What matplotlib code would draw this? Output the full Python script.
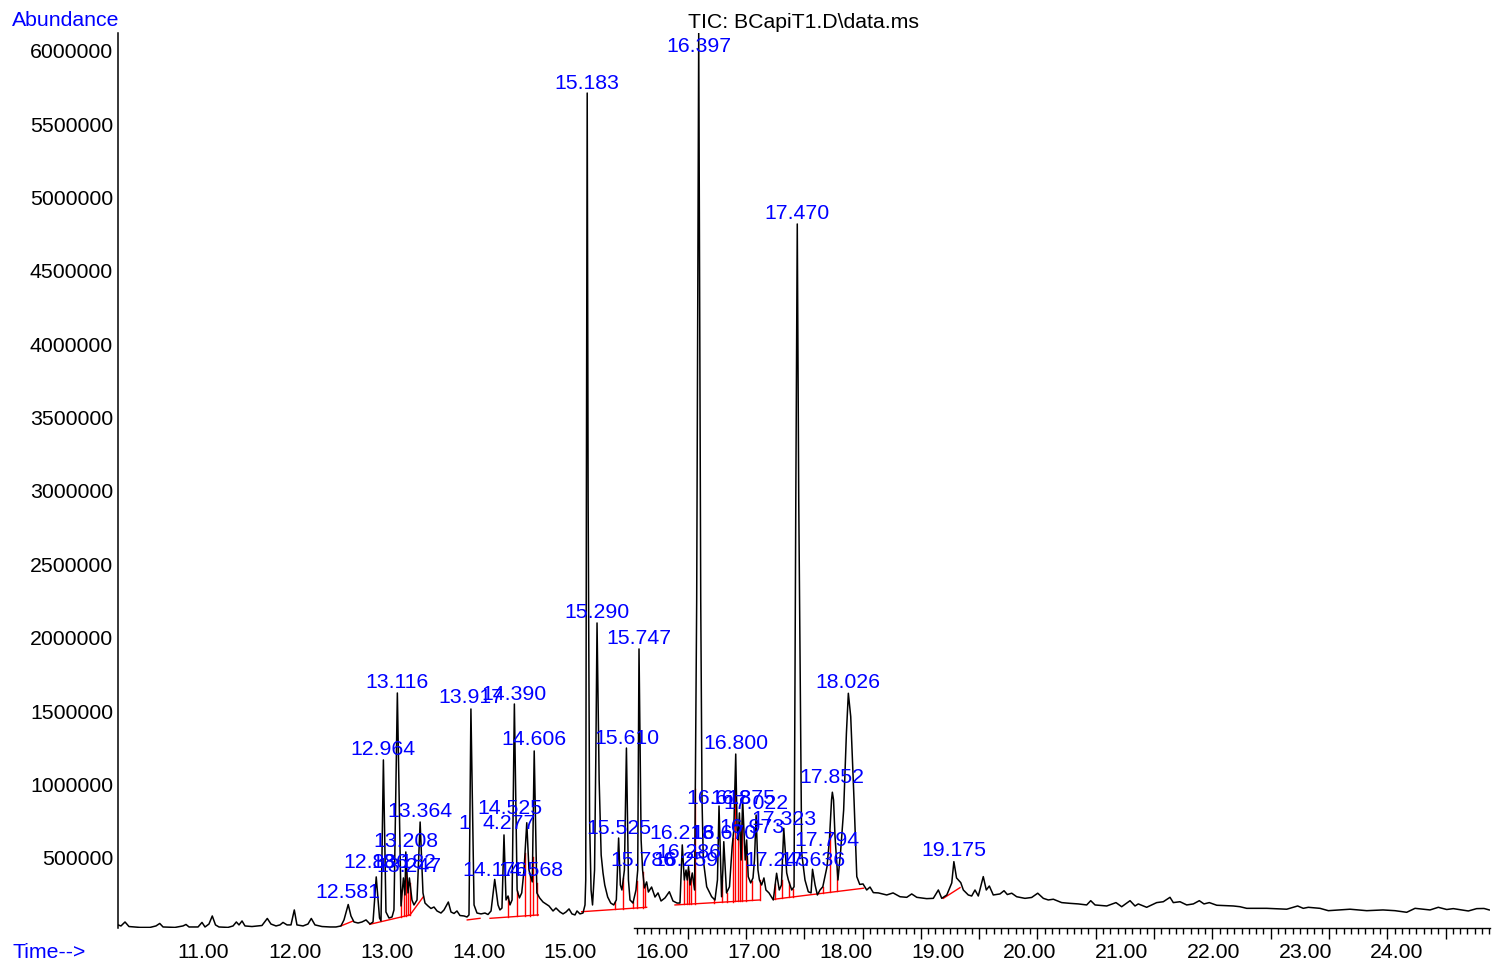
import numpy as np
import matplotlib
matplotlib.use("Agg")
import matplotlib.pyplot as plt
from matplotlib.ticker import MultipleLocator, NullFormatter

plt.rcParams['font.family'] = ['Liberation Sans', 'DejaVu Sans']

# ---------------- data ----------------
trace_time = [
    10.075, 10.107, 10.151, 10.194, 10.314, 10.423, 10.488, 10.529, 10.565, 10.695,
    10.782, 10.815, 10.848, 10.946, 10.989, 11.022, 11.065, 11.101, 11.136, 11.174,
    11.272, 11.327, 11.363, 11.392, 11.425, 11.457, 11.533, 11.642, 11.700, 11.740,
    11.795, 11.838, 11.871, 11.915, 11.958, 11.994, 12.023, 12.089, 12.143, 12.179,
    12.219, 12.296, 12.383, 12.448, 12.502, 12.535, 12.581, 12.611, 12.644, 12.688,
    12.731, 12.775, 12.818, 12.851, 12.886, 12.922, 12.938, 12.964, 12.992, 13.025,
    13.058, 13.079, 13.116, 13.156, 13.182, 13.199, 13.208, 13.232, 13.247, 13.275,
    13.297, 13.330, 13.364, 13.395, 13.417, 13.450, 13.482, 13.515, 13.548, 13.591,
    13.624, 13.671, 13.700, 13.733, 13.765, 13.798, 13.842, 13.874, 13.896, 13.917,
    13.951, 13.983, 14.027, 14.070, 14.103, 14.136, 14.176, 14.212, 14.233, 14.255,
    14.277, 14.299, 14.321, 14.342, 14.365, 14.390, 14.420, 14.445, 14.470, 14.495,
    14.525, 14.549, 14.568, 14.585, 14.606, 14.635, 14.665, 14.702, 14.734, 14.767,
    14.811, 14.843, 14.887, 14.920, 14.952, 14.985, 15.017, 15.050, 15.072, 15.104,
    15.137, 15.159, 15.167, 15.174, 15.183, 15.193, 15.209, 15.225, 15.241, 15.263,
    15.277, 15.290, 15.313, 15.335, 15.355, 15.374, 15.406, 15.439, 15.472, 15.500,
    15.525, 15.544, 15.561, 15.588, 15.610, 15.632, 15.649, 15.681, 15.714, 15.733,
    15.747, 15.770, 15.786, 15.806, 15.830, 15.849, 15.884, 15.921, 15.954, 15.987,
    16.030, 16.077, 16.117, 16.161, 16.193, 16.218, 16.240, 16.259, 16.272, 16.286,
    16.303, 16.327, 16.352, 16.375, 16.397, 16.419, 16.433, 16.447, 16.484, 16.538,
    16.574, 16.601, 16.618, 16.646, 16.660, 16.670, 16.700, 16.732, 16.761, 16.779,
    16.800, 16.815, 16.826, 16.840, 16.859, 16.875, 16.903, 16.919, 16.936, 16.963,
    16.988, 17.004, 17.022, 17.042, 17.058, 17.082, 17.107, 17.129, 17.162, 17.209,
    17.245, 17.274, 17.298, 17.323, 17.355, 17.373, 17.410, 17.435, 17.454, 17.470,
    17.486, 17.518, 17.554, 17.590, 17.620, 17.636, 17.664, 17.689, 17.718, 17.748,
    17.794, 17.820, 17.843, 17.852, 17.865, 17.881, 17.913, 17.943, 17.975, 18.005,
    18.026, 18.052, 18.088, 18.118, 18.150, 18.186, 18.226, 18.262, 18.298, 18.353,
    18.444, 18.513, 18.589, 18.662, 18.716, 18.771, 18.879, 18.951, 19.006, 19.043,
    19.098, 19.152, 19.175, 19.204, 19.250, 19.278, 19.332, 19.369, 19.405, 19.441,
    19.495, 19.528, 19.561, 19.604, 19.677, 19.721, 19.757, 19.805, 19.859, 19.949,
    20.022, 20.088, 20.149, 20.203, 20.258, 20.349, 20.439, 20.530, 20.621, 20.665,
    20.712, 20.839, 20.940, 21.002, 21.093, 21.147, 21.183, 21.274, 21.383, 21.455,
    21.528, 21.564, 21.637, 21.710, 21.782, 21.847, 21.898, 21.956, 22.037, 22.218,
    22.290, 22.363, 22.581, 22.799, 22.918, 22.979, 23.034, 23.161, 23.252, 23.488,
    23.670, 23.847, 23.978, 24.105, 24.196, 24.359, 24.449, 24.541, 24.612, 24.776,
    24.867, 24.947, 25.004,
]
trace_abundance = [
    44000, 37000, 64000, 33000, 27000, 27000, 37000, 54000, 30000, 27000,
    37000, 47000, 30000, 30000, 61000, 30000, 50000, 105000, 44000, 30000,
    27000, 37000, 64000, 44000, 71000, 37000, 33000, 40000, 88000, 50000,
    37000, 44000, 61000, 44000, 44000, 146000, 44000, 37000, 50000, 88000,
    44000, 33000, 30000, 30000, 37000, 78000, 183000, 105000, 64000, 57000,
    64000, 78000, 50000, 64000, 371000, 91000, 71000, 1168000, 132000, 91000,
    98000, 146000, 1624000, 173000, 364000, 248000, 541000, 262000, 364000, 214000,
    180000, 214000, 745000, 262000, 193000, 173000, 156000, 166000, 139000, 125000,
    146000, 200000, 132000, 122000, 139000, 108000, 105000, 98000, 112000, 1515000,
    180000, 125000, 119000, 125000, 115000, 139000, 354000, 180000, 146000, 159000,
    657000, 214000, 241000, 180000, 214000, 1549000, 282000, 228000, 262000, 418000,
    740000, 418000, 371000, 337000, 1229000, 262000, 228000, 200000, 187000, 173000,
    139000, 159000, 132000, 119000, 132000, 153000, 119000, 112000, 139000, 119000,
    125000, 180000, 350000, 2939000, 5711000, 2939000, 759000, 282000, 180000, 418000,
    1200000, 2101000, 1031000, 520000, 398000, 316000, 234000, 193000, 180000, 214000,
    636000, 316000, 282000, 418000, 1249000, 350000, 214000, 193000, 282000, 418000,
    1924000, 623000, 418000, 296000, 337000, 268000, 302000, 234000, 262000, 207000,
    228000, 270000, 207000, 193000, 193000, 589000, 350000, 418000, 350000, 441000,
    316000, 398000, 282000, 2258000, 6120000, 2258000, 896000, 486000, 304000, 236000,
    214000, 350000, 854000, 236000, 418000, 611000, 262000, 304000, 577000, 691000,
    1208000, 691000, 623000, 807000, 486000, 900000, 486000, 623000, 373000, 330000,
    364000, 486000, 793000, 418000, 350000, 316000, 364000, 282000, 262000, 214000,
    396000, 282000, 316000, 702000, 398000, 350000, 282000, 304000, 2939000, 4819000,
    2939000, 534000, 350000, 270000, 262000, 423000, 316000, 248000, 282000, 304000,
    441000, 623000, 895000, 948000, 895000, 645000, 350000, 554000, 827000, 1350000,
    1622000, 1463000, 895000, 373000, 320000, 323000, 282000, 302000, 264000, 262000,
    248000, 262000, 236000, 232000, 255000, 232000, 223000, 225000, 282000, 225000,
    248000, 330000, 475000, 364000, 332000, 282000, 248000, 241000, 282000, 241000,
    373000, 282000, 309000, 248000, 255000, 277000, 251000, 260000, 236000, 225000,
    231000, 260000, 225000, 214000, 219000, 196000, 191000, 187000, 180000, 209000,
    180000, 173000, 196000, 168000, 209000, 173000, 187000, 164000, 196000, 202000,
    232000, 196000, 202000, 180000, 187000, 209000, 187000, 196000, 178000, 173000,
    168000, 157000, 157000, 151000, 173000, 157000, 164000, 157000, 141000, 151000,
    141000, 146000, 141000, 130000, 157000, 146000, 164000, 149000, 155000, 139000,
    155000, 156000, 146000,
]

# peak labels (retention-time annotations) and where they sit
label_text = [
    "12.581", "12.886", "13.182", "13.247", "12.964", "13.116", "13.364", "13.208",
    "13.917", "14.390", "14.525", "1", "4.277", "14.606", "14.176", "14.568",
    "15.183", "15.290", "15.747", "15.610", "15.525", "15.786", "16.259", "16.286",
    "16.218", "16.670", "16.397", "16.800", "16.618", "16.875", "17.022", "16.973",
    "17.323", "17.245", "17.636", "17.470", "17.794", "17.852", "18.026", "19.175",
]
label_time = [
    12.581, 12.886, 13.182, 13.247, 12.964, 13.116, 13.364, 13.208,
    13.917, 14.390, 14.342, 13.842, 14.331, 14.606, 14.176, 14.568,
    15.183, 15.290, 15.747, 15.610, 15.525, 15.786, 16.259, 16.286,
    16.218, 16.670, 16.397, 16.800, 16.618, 16.875, 17.022, 16.973,
    17.323, 17.245, 17.636, 17.470, 17.794, 17.852, 18.026, 19.175,
]
label_height = [
    268000, 466000, 466000, 439000, 1236000, 1697000, 820000, 609000,
    1590000, 1617000, 840000, 738000, 738000, 1304000, 418000, 418000,
    5779000, 2169000, 1992000, 1317000, 704000, 486000, 486000, 534000,
    670000, 670000, 6031000, 1277000, 902000, 902000, 868000, 711000,
    765000, 486000, 486000, 4893000, 616000, 1046000, 1697000, 554000,
]

# integration baselines (red)
base_t0 = [12.501, 12.815, 13.254, 13.877, 14.125, 15.123, 16.139, 17.220, 19.060]
base_v0 = [37000, 48000, 112000, 78000, 89000, 134000, 180000, 219000, 225000]
base_t1 = [12.635, 13.254, 13.399, 14.016, 14.651, 15.830, 17.064, 18.192, 19.242]
base_v1 = [71000, 112000, 236000, 89000, 112000, 164000, 214000, 294000, 298000]

drop_times = [
    13.153, 13.189, 13.211, 13.236, 13.254,
    14.317, 14.422, 14.506, 14.560, 14.589, 14.633,
    15.486, 15.577, 15.684, 15.723, 15.788, 15.815,
    16.240, 16.265, 16.290, 16.318, 16.360, 16.560, 16.655, 16.700,
    16.770, 16.790, 16.820, 16.850, 16.870, 16.910, 16.975, 17.060,
    17.230, 17.300, 17.380, 17.420, 17.745, 17.825, 17.905,
]

x_ticks = [11, 12, 13, 14, 15, 16, 17, 18, 19, 20, 21, 22, 23, 24]
x_tick_labels = ["11.00", "12.00", "13.00", "14.00", "15.00", "16.00", "17.00",
                 "18.00", "19.00", "20.00", "21.00", "22.00", "23.00", "24.00"]
y_ticks = [500000, 1000000, 1500000, 2000000, 2500000, 3000000,
           3500000, 4000000, 4500000, 5000000, 5500000, 6000000]

# ---------------- drawing ----------------
W, H = 1496, 965
FS = 15.3
fig = plt.figure(figsize=(W / 100, H / 100), dpi=100)
ax = fig.add_axes([118 / W, (H - 928) / H, (1490 - 118) / W, (928 - 33) / H])
ax.set_xlim(10.0746, 25.012)
ax.set_ylim(23000, 6120000)

ax.plot(trace_time, trace_abundance, color='black', lw=1.1, zorder=3)

tt = np.array(trace_time)
vv = np.array(trace_abundance)
for t0, v0, t1, v1 in zip(base_t0, base_v0, base_t1, base_v1):
    ax.plot([t0, t1], [v0, v1], color='red', lw=1.0, zorder=2)
for t in drop_times:
    for t0, v0, t1, v1 in zip(base_t0, base_v0, base_t1, base_v1):
        if t0 <= t <= t1:
            b = v0 + (v1 - v0) * (t - t0) / (t1 - t0)
            top = np.interp(t, tt, vv)
            ax.plot([t, t], [b, top], color='red', lw=1.0, zorder=2)
            break

for s, t, h in zip(label_text, label_time, label_height):
    ax.text(t, h, s, color='blue', ha='center', va='center', fontsize=FS,
            clip_on=False, zorder=4)

for side in ['top', 'right', 'bottom']:
    ax.spines[side].set_visible(False)
ax.spines['left'].set_linewidth(1.1)

ax.set_yticks(y_ticks)
ax.set_yticklabels([str(v) for v in y_ticks], fontsize=FS)
ax.tick_params(axis='y', length=0, pad=3.6)
ax.set_xticks(x_ticks)
ax.set_xticklabels(x_tick_labels, fontsize=FS)
ax.tick_params(axis='x', length=0, pad=11)

# bottom tick ruler
ax2 = fig.add_axes([634 / W, (H - 928) / H, (1490 - 634) / W, 0.0001])
ax2.set_xlim(-0.921, 13.762)
ax2.xaxis.set_major_locator(MultipleLocator(1))
ax2.xaxis.set_minor_locator(MultipleLocator(0.125))
ax2.xaxis.set_major_formatter(NullFormatter())
ax2.tick_params(axis='x', which='major', direction='out', length=8, width=1.0)
ax2.tick_params(axis='x', which='minor', direction='out', length=4.3, width=1.0)
ax2.set_yticks([])
for side in ['top', 'right', 'left']:
    ax2.spines[side].set_visible(False)
ax2.spines['bottom'].set_linewidth(1.0)
ax2.patch.set_visible(False)

fig.text(803 / W, 1 - 23 / H, "TIC: BCapiT1.D\\data.ms", ha='center', va='center',
         fontsize=FS, color='black')
fig.text(12 / W, 1 - 21 / H, "Abundance", ha='left', va='center', fontsize=FS, color='blue')
fig.text(12 / W, 1 - 953 / H, "Time-->", ha='left', va='center', fontsize=FS, color='blue')

fig.savefig('out.png', dpi=100)
